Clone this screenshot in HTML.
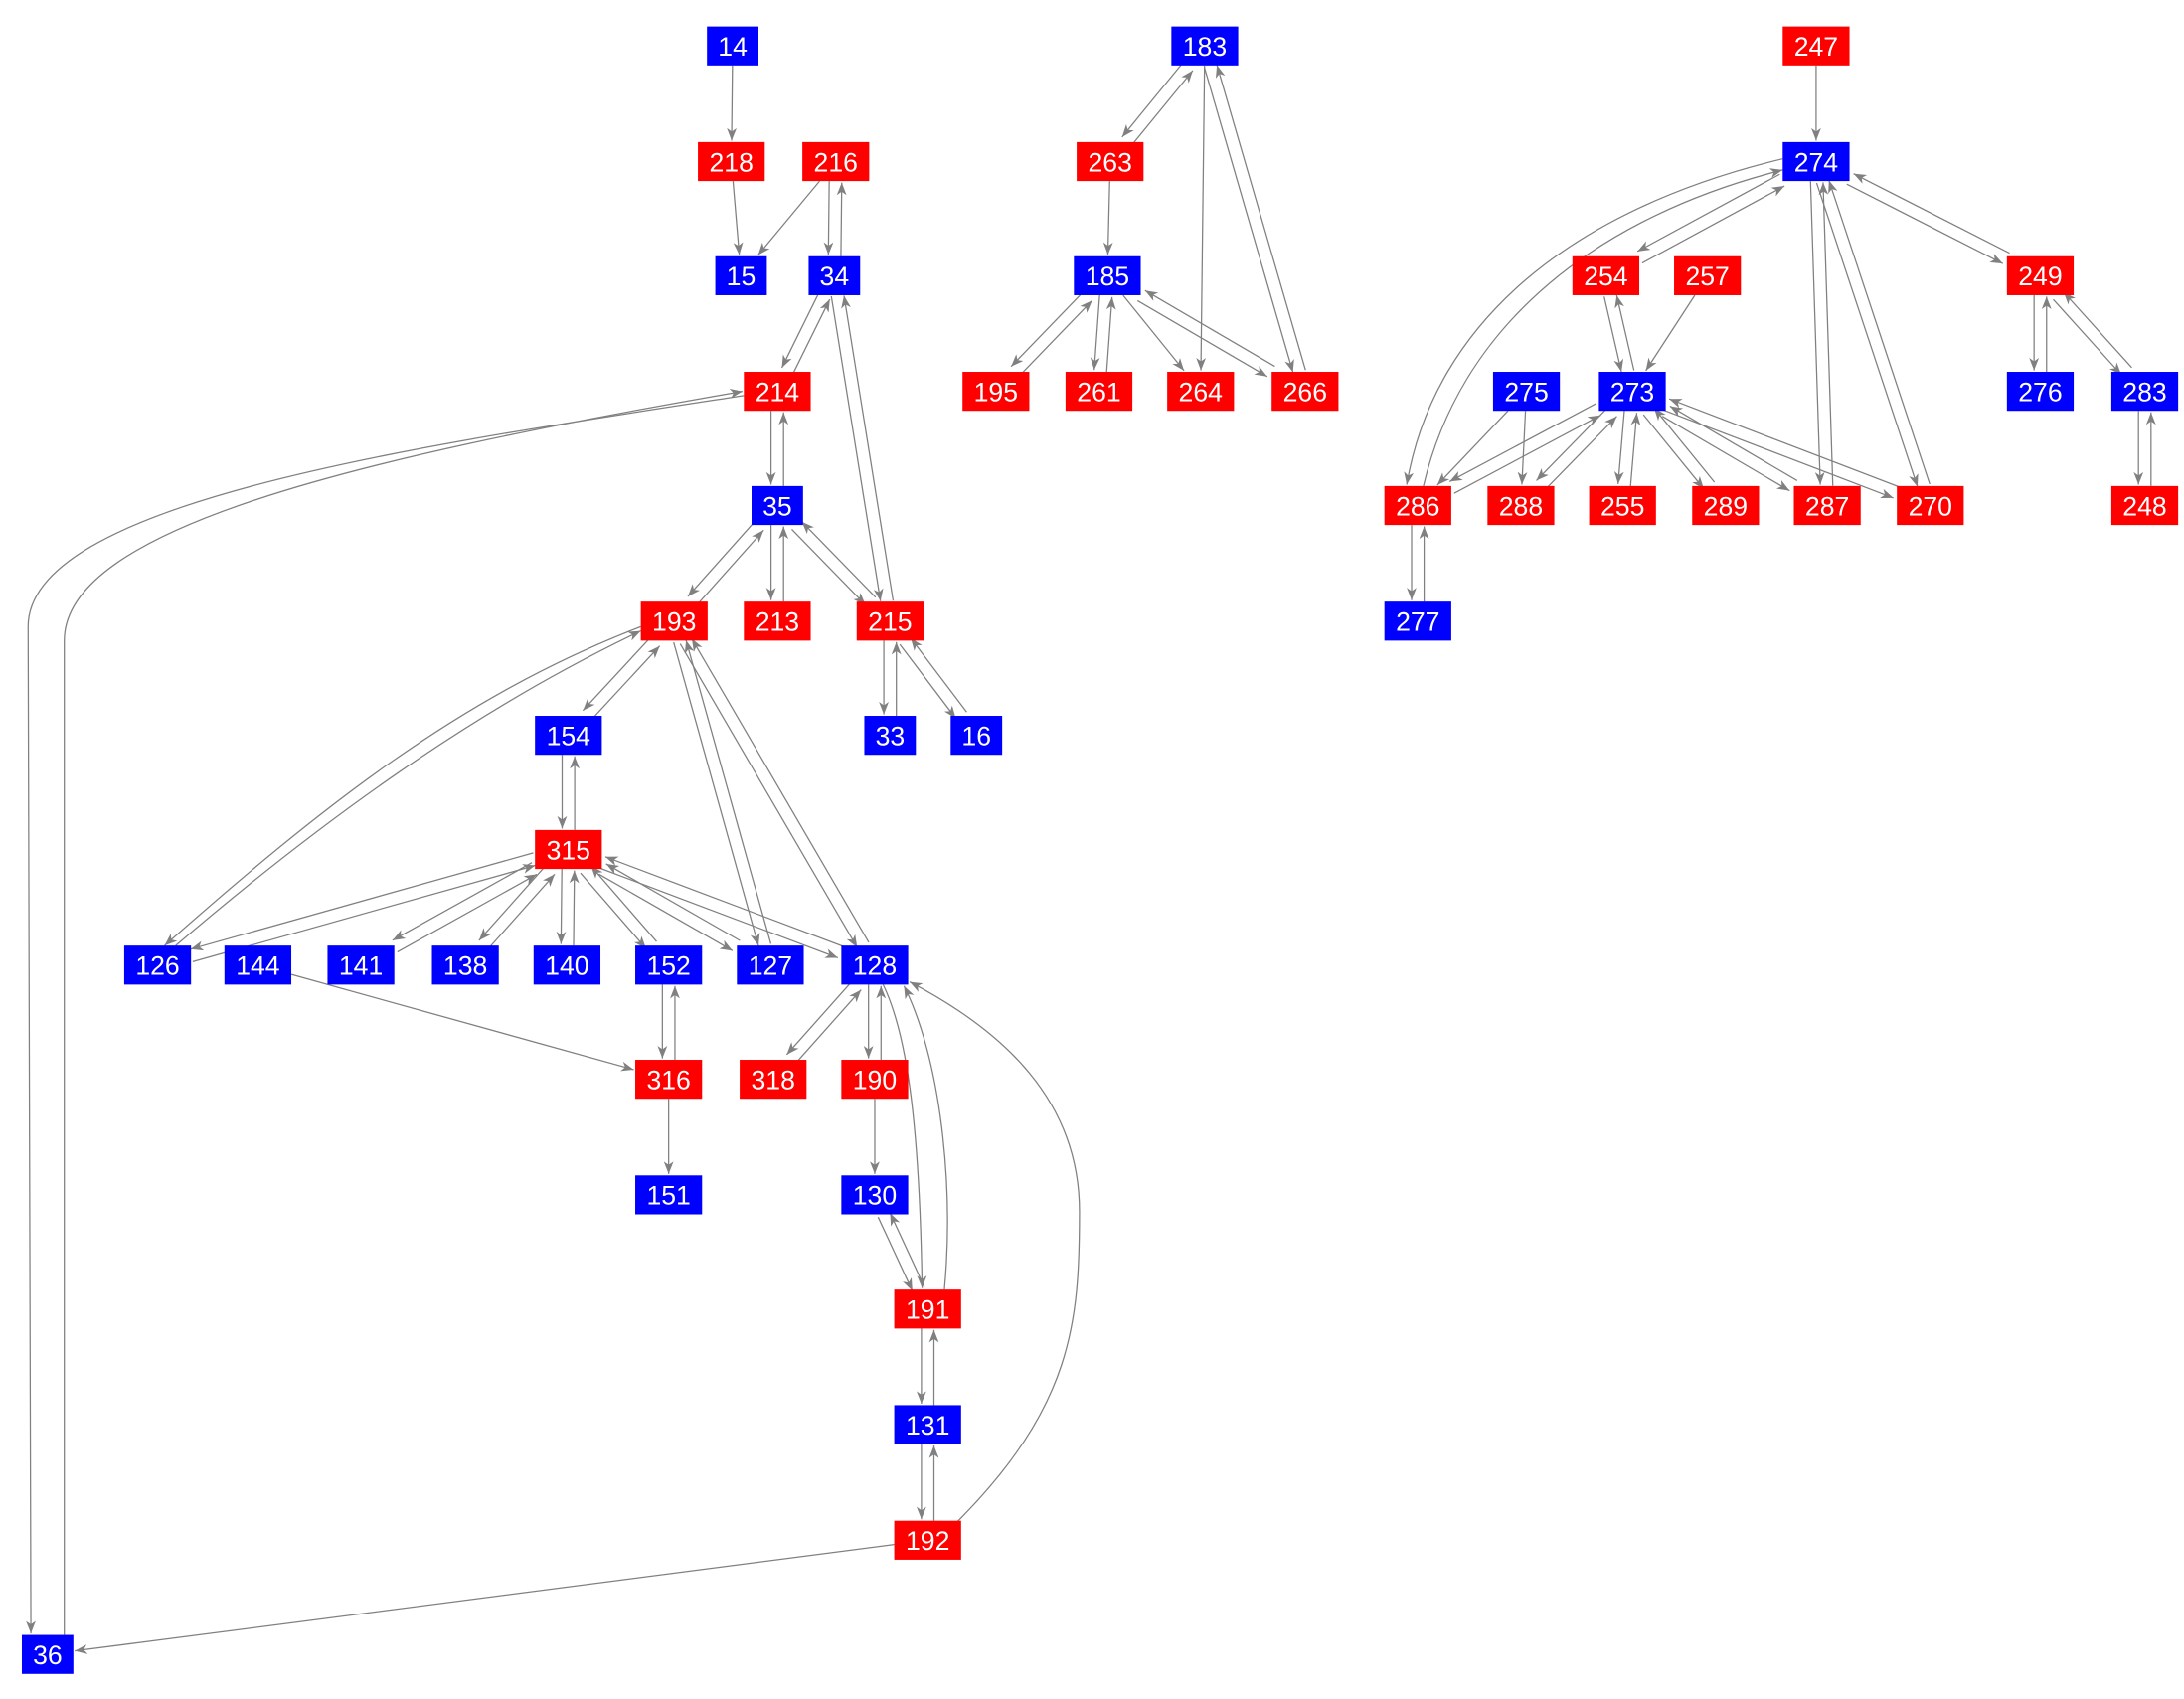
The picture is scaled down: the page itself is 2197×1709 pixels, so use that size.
<!DOCTYPE html>
<html><head><meta charset="utf-8"><style>html,body{margin:0;padding:0;background:#fff}svg{display:block}</style></head>
<body>
<svg id="g" xmlns="http://www.w3.org/2000/svg" width="2197" height="1709" viewBox="0 0 1568 1220">
<defs><marker id="a" markerUnits="userSpaceOnUse" markerWidth="12" markerHeight="10" refX="9" refY="3.5" orient="auto"><path d="M0,0 L9,3.5 L0,7 L2.5,3.5 Z" fill="#808080"/></marker></defs>
<g id="edges" fill="none" stroke="#808080" stroke-width="0.9"></g>
<g id="nodes" font-family="'Liberation Sans',Arial,sans-serif" font-size="19" fill="#fff" text-anchor="middle">
</g>
</svg>
<script>
var N={
14:[526,33,'b'],218:[525,116,'r'],216:[600,116,'r'],15:[532,198,'b'],34:[599,198,'b'],214:[558,281,'r'],35:[558,363,'b'],
193:[484,446,'r'],213:[558,446,'r'],215:[639,446,'r'],154:[408,528,'b'],33:[639,528,'b'],16:[701,528,'b'],315:[408,610,'r'],
126:[113,693,'b'],144:[185,693,'b'],141:[259,693,'b'],138:[334,693,'b'],140:[407,693,'b'],152:[480,693,'b'],127:[553,693,'b'],128:[628,693,'b'],
316:[480,775,'r'],318:[555,775,'r'],190:[628,775,'r'],151:[480,858,'b'],130:[628,858,'b'],191:[666,940,'r'],131:[666,1023,'b'],192:[666,1106,'r'],36:[34,1188,'b'],
183:[865,33,'b'],263:[797,116,'r'],185:[795,198,'b'],195:[715,281,'r'],261:[789,281,'r'],264:[862,281,'r'],266:[937,281,'r'],
247:[1304,33,'r'],274:[1304,116,'b'],254:[1153,198,'r'],257:[1226,198,'r'],249:[1465,198,'r'],275:[1096,281,'b'],273:[1172,281,'b'],276:[1465,281,'b'],283:[1540,281,'b'],
286:[1018,363,'r'],288:[1092,363,'r'],255:[1165,363,'r'],289:[1239,363,'r'],287:[1312,363,'r'],270:[1386,363,'r'],248:[1540,363,'r'],277:[1018,446,'b']};
var E="14>218 218>15 216>15 216>34 34>216 34>214 214>34 214>35 35>214 35>193 193>35 35>213 213>35 35>215 215>35 34>215 215>34 215>33 33>215 215>16 16>215 193>154 154>193 193>127 127>193 193>128 128>193 154>315 315>154 315>126 126>315 315>141 141>315 315>138 138>315 315>140 140>315 315>152 152>315 315>127 127>315 315>128 128>315 144>316 152>316 316>152 316>151 128>318 318>128 128>190 190>128 190>130 130>191 191>130 191>131 131>191 131>192 192>131 192>36 "+
"183>263 263>183 263>185 183>264 183>266 266>183 185>195 195>185 185>261 261>185 185>264 185>266 266>185 247>274 274>254 254>274 274>287 287>274 274>270 270>274 274>249 249>274 254>273 273>254 257>273 275>286 275>288 273>286 286>273 273>288 288>273 273>255 255>273 273>289 289>273 273>287 287>273 273>270 270>273 249>276 276>249 249>283 283>249 283>248 248>283 286>277 277>286";
var ns="http://www.w3.org/2000/svg";
function hw(k){return (String(k).length>2?24:18.5);}
var set={};E.split(" ").forEach(function(e){set[e]=1;});
var eg=document.getElementById("edges");
function add(d){var p=document.createElementNS(ns,"path");p.setAttribute("d",d);p.setAttribute("marker-end","url(#a)");eg.appendChild(p);}
E.split(" ").forEach(function(e){var s=e.split(">"),A=N[s[0]],B=N[s[1]];
var dx=B[0]-A[0],dy=B[1]-A[1],L=Math.hypot(dx,dy),ux=dx/L,uy=dy/L,px=-uy,py=ux;
var o=set[s[1]+">"+s[0]]?4.5:0;
var ax=A[0]+px*o,ay=A[1]+py*o,bx=B[0]+px*o,by=B[1]+py*o;
function t(k){var h=hw(k);return Math.min(Math.abs(ux)>1e-6?h/Math.abs(ux):1e9,14/Math.abs(uy||1e-6));}
var t1=t(s[0]),t2=t(s[1]);
add("M"+(ax+ux*t1).toFixed(1)+","+(ay+uy*t1).toFixed(1)+" L"+(bx-ux*(t2+1)).toFixed(1)+","+(by-uy*(t2+1)).toFixed(1));});
// curved edges
add("M534,284 C300,320 20,360 20,450 L22,1173");
add("M46,1174 L46,460 C46,380 250,330 533,281");
add("M460,450 C330,500 230,580 118,679");
add("M126,679 C230,590 340,510 460,453");
add("M686,1094 C770,1010 775,950 775,870 C775,790 720,740 653,705");
add("M1280,114 C1130,150 1030,230 1010,348");
add("M1022,349 C1050,230 1150,155 1280,122");
add("M634,707 C650,740 660,800 662,925");
add("M678,926 C685,850 675,760 649,708");
var g=document.getElementById("nodes");
for(var k in N){var n=N[k],h=hw(k);var r=document.createElementNS(ns,"rect");r.setAttribute("x",n[0]-h);r.setAttribute("y",n[1]-14);r.setAttribute("width",2*h);r.setAttribute("height",28);r.setAttribute("fill",n[2]=='b'?'#0000ff':'#ff0000');g.insertBefore(r,g.firstChild);}
</script>
<svg style="position:absolute;left:0;top:0" width="2197" height="1709" viewBox="0 0 1568 1220" font-family="'Liberation Sans',Arial,sans-serif" font-size="19" fill="#fff" text-anchor="middle">
<text x="526" y="40">14</text><text x="525" y="123">218</text><text x="600" y="123">216</text><text x="532" y="205">15</text><text x="599" y="205">34</text><text x="558" y="288">214</text><text x="558" y="370">35</text>
<text x="484" y="453">193</text><text x="558" y="453">213</text><text x="639" y="453">215</text><text x="408" y="535">154</text><text x="639" y="535">33</text><text x="701" y="535">16</text><text x="408" y="617">315</text>
<text x="113" y="700">126</text><text x="185" y="700">144</text><text x="259" y="700">141</text><text x="334" y="700">138</text><text x="407" y="700">140</text><text x="480" y="700">152</text><text x="553" y="700">127</text><text x="628" y="700">128</text>
<text x="480" y="782">316</text><text x="555" y="782">318</text><text x="628" y="782">190</text><text x="480" y="865">151</text><text x="628" y="865">130</text><text x="666" y="947">191</text><text x="666" y="1030">131</text><text x="666" y="1113">192</text><text x="34" y="1195">36</text>
<text x="865" y="40">183</text><text x="797" y="123">263</text><text x="795" y="205">185</text><text x="715" y="288">195</text><text x="789" y="288">261</text><text x="862" y="288">264</text><text x="937" y="288">266</text>
<text x="1304" y="40">247</text><text x="1304" y="123">274</text><text x="1153" y="205">254</text><text x="1226" y="205">257</text><text x="1465" y="205">249</text><text x="1096" y="288">275</text><text x="1172" y="288">273</text><text x="1465" y="288">276</text><text x="1540" y="288">283</text>
<text x="1018" y="370">286</text><text x="1092" y="370">288</text><text x="1165" y="370">255</text><text x="1239" y="370">289</text><text x="1312" y="370">287</text><text x="1386" y="370">270</text><text x="1540" y="370">248</text><text x="1018" y="453">277</text>
</svg>
</body></html>
